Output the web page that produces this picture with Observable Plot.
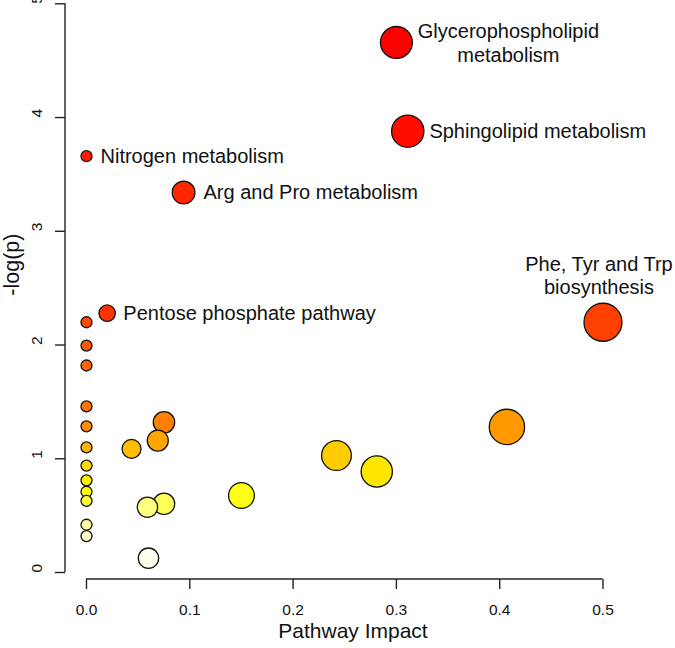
<!DOCTYPE html>
<html>
<head>
<meta charset="utf-8">
<script src="https://cdn.jsdelivr.net/npm/d3@7"></script>
<script src="https://cdn.jsdelivr.net/npm/@observablehq/plot@0.6"></script>
<style>
  html, body { margin: 0; padding: 0; background: #fff; }
  svg { display: block; }
</style>
</head>
<body>
<div id="chart"></div>
<script>
// Pathway names (empty = unlabeled)
const names = [
  "Glycerophospholipid metabolism", "Sphingolipid metabolism", "Nitrogen metabolism",
  "Arg and Pro metabolism", "Pentose phosphate pathway", "Phe, Tyr and Trp biosynthesis",
  "", "", "", "", "", "", "", "", "", "", "", "", "", "", "", "", "", "", "", "", "", ""
];
// Pathway impact (x)
const impact = [
  0.300, 0.311, 0.000, 0.094, 0.020, 0.500,
  0.000, 0.000, 0.000, 0.000, 0.075, 0.000, 0.407, 0.069, 0.000, 0.0436,
  0.242, 0.000, 0.281, 0.000, 0.000, 0.150, 0.000, 0.075, 0.059, 0.000, 0.000, 0.060
];
// -log(p) (y)
const logp = [
  4.66, 3.88, 3.66, 3.34, 2.28, 2.20,
  2.20, 1.995, 1.82, 1.46, 1.32, 1.285, 1.28, 1.16, 1.10, 1.087,
  1.028, 0.94, 0.888, 0.81, 0.71, 0.677, 0.63, 0.604, 0.574, 0.42, 0.32, 0.126
];
const xTicks = [0, 0.1, 0.2, 0.3, 0.4, 0.5];
const yTicks = [0, 1, 2, 3, 4, 5];
const xLabel = "Pathway Impact";
const yLabel = "-log(p)";

// R heat.colors(n)
function heatColors(n) {
  const j = Math.floor(n / 4), i = n - j, out = [];
  for (let k = 0; k < i; k++) {
    const h = i > 1 ? k / (i - 1) : 0; // fraction of 60deg
    out.push(d3.rgb(255, Math.round(255 * h), 0).formatHex());
  }
  const s0 = 1 - 1 / (2 * j), s1 = 1 / (2 * j);
  for (let k = 0; k < j; k++) {
    const s = j > 1 ? s0 + k * (s1 - s0) / (j - 1) : s0;
    out.push(d3.rgb(255, 255, Math.round(255 * (1 - s))).formatHex());
  }
  return out;
}

const n = names.length;
const order = d3.range(n).sort((a, b) => d3.descending(logp[a], logp[b]) || a - b);
const rank = new Array(n);
order.forEach((idx, r) => rank[idx] = r);
const data = d3.range(n).map(i => ({name: names[i], impact: impact[i], logp: logp[i], rank: rank[i]}));
const drawData = order.map(i => data[i]);
const heat = heatColors(n);

const rDomain = [0, 0.5], rRange = [5.5, 19];
const rScale = d3.scaleSqrt().domain(rDomain).range(rRange);
const byName = nm => data.filter(d => d.name === nm);

function axisLines(index, scales, values, dims) {
  const g = d3.create("svg:g").attr("stroke", "#222").attr("stroke-width", 1.4).attr("fill", "none");
  const x0 = dims.marginLeft, yB = dims.height - dims.marginBottom;
  g.append("line").attr("x1", x0).attr("x2", x0)
    .attr("y1", scales.y(yTicks[0])).attr("y2", scales.y(yTicks[yTicks.length - 1]));
  g.append("line").attr("y1", yB).attr("y2", yB)
    .attr("x1", scales.x(xTicks[0])).attr("x2", scales.x(xTicks[xTicks.length - 1]));
  return g.node();
}

const labelFont = 20;
const rightLabel = (nm, gap) => {
  const d = byName(nm)[0];
  return Plot.text([d], {x: "impact", y: "logp", text: "name", textAnchor: "start",
    dx: rScale(d.impact) + gap, fontSize: labelFont, fill: "#111"});
};

const glyc = byName("Glycerophospholipid metabolism")[0];
const phe = byName("Phe, Tyr and Trp biosynthesis")[0];

const chart = Plot.plot({
  width: 675,
  height: 648,
  marginLeft: 65,
  marginRight: 35,
  marginTop: 3.3,
  marginBottom: 69,
  style: {fontFamily: "'Liberation Sans', Arial, Helvetica, sans-serif", background: "#fff", color: "#222"},
  x: {domain: [xTicks[0], xTicks[xTicks.length - 1]], range: [86, 602.5]},
  y: {domain: [yTicks[0], yTicks[yTicks.length - 1]], range: [572, 3.3]},
  r: {type: "sqrt", domain: rDomain, range: rRange},
  color: {type: "ordinal", domain: d3.range(n), range: heat},
  marks: [
    Plot.axisX({ticks: xTicks, tickFormat: () => "", tickSize: 10, strokeWidth: 1.4, label: null}),
    Plot.axisY({ticks: yTicks, tickFormat: () => "", tickSize: 10, strokeWidth: 1.4, label: null}),
    Plot.text(xTicks, {x: d => d, frameAnchor: "bottom", dy: 35, text: d3.format(".1f"), fontSize: 15.5, fill: "#111"}),
    Plot.text(yTicks, {y: d => d, frameAnchor: "left", dx: -28.5, rotate: -90, text: d3.format("d"), fontSize: 15.5, fill: "#111"}),
    axisLines,
    Plot.text([xLabel], {frameAnchor: "bottom", dy: 58, fontSize: 21, fill: "#111"}),
    Plot.text([yLabel], {frameAnchor: "left", rotate: -90, dx: -53, dy: 4, fontSize: 21.5, fill: "#111"}),
    Plot.dot(drawData, {x: "impact", y: "logp", r: "impact", fill: "rank", stroke: "#111", strokeWidth: 1.3, sort: null}),
    rightLabel("Nitrogen metabolism", 8.5),
    rightLabel("Arg and Pro metabolism", 8.5),
    rightLabel("Pentose phosphate pathway", 8),
    rightLabel("Sphingolipid metabolism", 5.5),
    Plot.text([glyc], {x: "impact", y: "logp", text: d => "Glycerophospholipid\nmetabolism",
      textAnchor: "middle", lineHeight: 1.17, dx: 112, fontSize: labelFont, fill: "#111"}),
    Plot.text([phe], {x: "impact", y: "logp", text: d => "Phe, Tyr and Trp\nbiosynthesis",
      textAnchor: "middle", lineAnchor: "bottom", lineHeight: 1.17, dx: -4, dy: -rScale(phe.impact) - 9, fontSize: labelFont, fill: "#111"})
  ]
});
document.getElementById("chart").appendChild(chart);
</script>
</body>
</html>
